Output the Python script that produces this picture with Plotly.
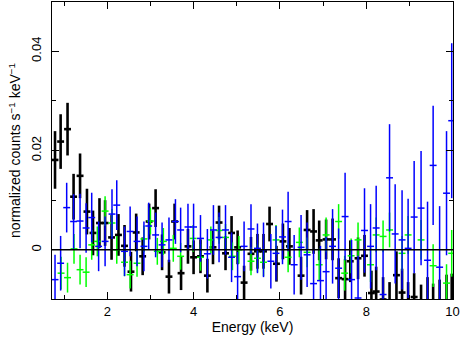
import plotly.graph_objects as go

# black data group
black_e = [0.79, 0.92, 1.08, 1.22, 1.37, 1.53, 1.67, 1.82, 1.95, 2.10,
           2.26, 2.40, 2.55, 2.67, 2.82, 2.97, 3.12, 3.27, 3.43, 3.56,
           3.71, 3.87, 4.00, 4.16, 4.32, 4.45, 4.59, 4.74, 4.88, 5.02,
           5.17, 5.33, 5.48, 5.62, 5.76, 5.92, 6.07, 6.22, 6.49, 6.63,
           6.78, 6.91, 7.07, 7.22, 7.36, 7.51, 7.63, 7.81, 7.96, 8.12,
           8.23, 8.39, 8.54, 8.70, 8.83, 8.97, 9.11, 9.27, 9.42, 9.55,
           9.70, 9.86, 9.98]
black_v = [0.0181, 0.0218, 0.0243, 0.0107, 0.0149, 0.0077, 0.0034, 0.0054, 0.0054, 0.0025,
           0.0030, 0.0008, -0.0044, 0.0035, -0.0013, 0.0057, 0.0084, -0.0005, -0.0054, 0.0057,
           -0.0047, 0.0007, -0.0015, -0.0013, -0.0052, 0.0005, 0.0055, -0.0007, 0.0034, 0.0005,
           -0.0066, -0.0008, -0.0003, -0.0003, 0.0052, -0.0028, 0.0017, 0.0007, -0.0052, 0.0040,
           0.0037, 0.0019, 0.0021, 0.0021, -0.0057, -0.0059, -0.0023, -0.0017, -0.0012, -0.0087,
           -0.0084, -0.0100, -0.0110, -0.0051, -0.0086, -0.0115, -0.0095, -0.0120, -0.0105, -0.0118,
           -0.0110, -0.0105, -0.0105]
black_err = [0.0058, 0.0055, 0.0053, 0.0046, 0.0045, 0.0046, 0.0045, 0.0050, 0.0046, 0.0045,
             0.0042, 0.0042, 0.0040, 0.0038, 0.0038, 0.0036, 0.0038, 0.0036, 0.0034, 0.0036,
             0.0034, 0.0035, 0.0034, 0.0034, 0.0034, 0.0034, 0.0034, 0.0034, 0.0034, 0.0034,
             0.0034, 0.0034, 0.0035, 0.0035, 0.0035, 0.0036, 0.0036, 0.0037, 0.0038, 0.0040,
             0.0045, 0.0040, 0.0040, 0.0042, 0.0040, 0.0040, 0.0042, 0.0042, 0.0042, 0.0045,
             0.0050, 0.0045, 0.0045, 0.0048, 0.0048, 0.0050, 0.0048, 0.0050, 0.0050, 0.0050,
             0.0050, 0.0055, 0.0057]

# green data group
green_e = [0.93, 1.08, 1.23, 1.37, 1.51, 1.64, 1.77, 1.95, 2.11, 2.22,
           2.40, 2.53, 2.69, 2.85, 3.00, 3.16, 3.30, 3.53, 3.70, 3.99,
           4.16, 4.40, 4.59, 4.74, 4.90, 5.05, 5.33, 5.48, 5.62, 5.91,
           6.19, 6.45, 6.63, 6.91, 7.07, 7.36, 7.50, 7.65, 7.81, 8.10,
           8.23, 8.39, 8.54, 8.83, 8.97, 9.27, 9.55, 9.86, 9.98]
green_v = [-0.0047, -0.0056, 0.0002, -0.0040, -0.0045, 0.0010, 0.0017, 0.0078, 0.0054, 0.0000,
           -0.0025, -0.0050, -0.0027, 0.0022, 0.0058, -0.0003, 0.0017, 0.0003, -0.0013, 0.0023,
           -0.0015, 0.0020, 0.0039, 0.0025, -0.0013, 0.0000, -0.0023, -0.0017, -0.0025, 0.0020,
           -0.0015, 0.0015, -0.0005, -0.0030, 0.0030, 0.0057, -0.0047, -0.0012, 0.0020, -0.0030,
           0.0030, 0.0027, 0.0040, -0.0007, 0.0030, 0.0020, -0.0032, -0.0067, -0.0007]
green_err = [0.0033, 0.0030, 0.0030, 0.0030, 0.0030, 0.0030, 0.0030, 0.0030, 0.0028, 0.0028,
             0.0028, 0.0028, 0.0027, 0.0027, 0.0027, 0.0027, 0.0027, 0.0027, 0.0027, 0.0027,
             0.0027, 0.0027, 0.0027, 0.0027, 0.0028, 0.0028, 0.0028, 0.0028, 0.0028, 0.0030,
             0.0030, 0.0030, 0.0030, 0.0032, 0.0035, 0.0035, 0.0035, 0.0035, 0.0035, 0.0035,
             0.0035, 0.0032, 0.0035, 0.0035, 0.0038, 0.0040, 0.0043, 0.0038, 0.0047]

# blue data group
blue_e = [0.79, 0.92, 1.06, 1.22, 1.37, 1.51, 1.64, 1.80, 1.95, 2.11,
          2.22, 2.40, 2.53, 2.69, 2.85, 2.96, 3.12, 3.27, 3.43, 3.58,
          3.70, 3.87, 4.00, 4.16, 4.32, 4.46, 4.59, 4.74, 4.88, 5.02,
          5.17, 5.33, 5.48, 5.62, 5.79, 5.91, 6.06, 6.19, 6.33, 6.49,
          6.63, 6.78, 6.94, 7.07, 7.22, 7.36, 7.51, 7.66, 7.81, 7.96,
          8.10, 8.23, 8.39, 8.54, 8.67, 8.83, 8.97, 9.11, 9.27, 9.42,
          9.55, 9.70, 9.86, 9.98]
blue_v = [-0.0060, -0.0027, 0.0085, 0.0057, 0.0058, 0.0044, 0.0065, 0.0007, 0.0017, 0.0072,
          0.0090, -0.0003, 0.0037, 0.0017, 0.0007, 0.0048, 0.0030, 0.0010, 0.0020, 0.0057,
          0.0040, 0.0046, 0.0046, 0.0023, -0.0008, 0.0040, 0.0025, 0.0040, -0.0015, -0.0054,
          0.0007, 0.0042, 0.0003, 0.0000, -0.0023, -0.0007, 0.0026, 0.0057, -0.0030, 0.0005,
          -0.0010, -0.0068, -0.0062, -0.0044, 0.0007, -0.0037, 0.0067, -0.0060, -0.0097, 0.0039,
          0.0007, 0.0044, -0.0090, 0.0145, 0.0032, 0.0020, 0.0003, 0.0066, 0.0084, -0.0021,
          0.0170, -0.0035, 0.0114, 0.0260]
blue_err = [0.0050, 0.0055, 0.0050, 0.0055, 0.0055, 0.0050, 0.0050, 0.0050, 0.0050, 0.0050,
            0.0050, 0.0050, 0.0050, 0.0050, 0.0050, 0.0047, 0.0045, 0.0045, 0.0045, 0.0045,
            0.0045, 0.0047, 0.0047, 0.0047, 0.0050, 0.0050, 0.0050, 0.0050, 0.0050, 0.0050,
            0.0050, 0.0050, 0.0050, 0.0055, 0.0055, 0.0055, 0.0055, 0.0060, 0.0060, 0.0065,
            0.0065, 0.0070, 0.0070, 0.0070, 0.0075, 0.0080, 0.0088, 0.0080, 0.0085, 0.0085,
            0.0085, 0.0085, 0.0090, 0.0108, 0.0100, 0.0100, 0.0100, 0.0113, 0.0115, 0.0118,
            0.0120, 0.0123, 0.0125, 0.0156]

bin_half = 0.08

fig = go.Figure()
for e, v, err, color, w in [
    (black_e, black_v, black_err, "black", 2.6),
    (green_e, green_v, green_err, "#00ff00", 1.5),
    (blue_e, blue_v, blue_err, "#0000ff", 1.5),
]:
    fig.add_trace(go.Scatter(
        x=e, y=v, mode="markers",
        marker=dict(size=2, color=color, opacity=0),
        error_y=dict(type="data", array=err, visible=True, width=0,
                     thickness=w, color=color),
        error_x=dict(type="constant", value=bin_half, visible=True, width=0,
                     thickness=w, color=color),
        showlegend=False, hoverinfo="skip",
    ))

fig.add_shape(type="line", xref="paper", x0=0, x1=1, yref="y", y0=0, y1=0,
              line=dict(color="black", width=1.5), layer="above")

fig.update_xaxes(
    range=[0.72, 10.01], tick0=0, dtick=2,
    ticks="inside", ticklen=7, tickcolor="black",
    minor=dict(ticks="inside", ticklen=4, dtick=1, tick0=0, tickcolor="black"),
    showline=True, linecolor="black", linewidth=1, mirror="allticks",
    showgrid=False, zeroline=False, automargin=False,
    title=dict(text="Energy (keV)", font=dict(size=14), standoff=2),
)
fig.update_yaxes(
    range=[-0.0099, 0.0499], tickvals=[0, 0.02, 0.04], ticktext=["0", "0.02", "0.04"],
    tickangle=-90, ticks="inside", ticklen=7, tickcolor="black", ticklabelstandoff=5,
    minor=dict(ticks="inside", ticklen=4, tickvals=[-0.01, 0.01, 0.03], tickcolor="black"),
    showline=True, linecolor="black", linewidth=1, mirror="allticks",
    showgrid=False, zeroline=False, automargin=False,
    title=dict(text="normalized counts s<sup>−1</sup> keV<sup>−1</sup>", font=dict(size=14), standoff=4),
)
fig.update_layout(
    width=463, height=339,
    margin=dict(l=52, r=10, t=2, b=40),
    plot_bgcolor="white", paper_bgcolor="white",
    font=dict(family="Liberation Sans, Arial, sans-serif", size=13, color="black"),
)

# the page body has a default 8px margin; drop it so the figure sits at the corner
fig.write_html("out.html", config={"displayModeBar": False},
               post_script="document.body.style.margin='0';")
